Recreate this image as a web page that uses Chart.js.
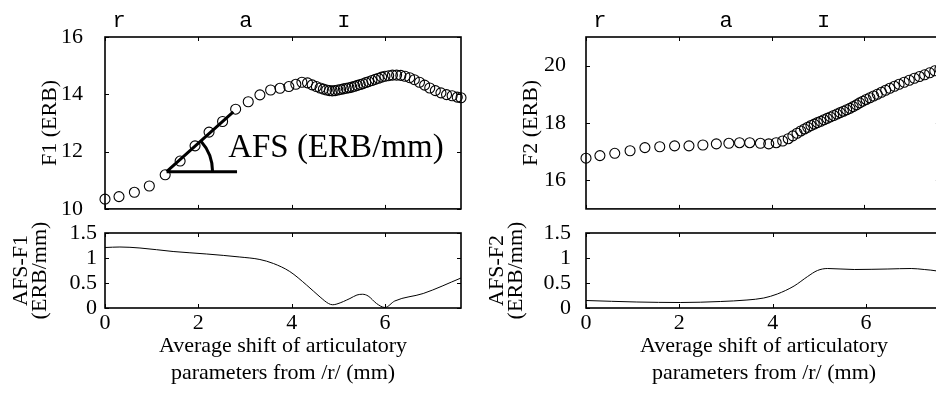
<!DOCTYPE html>
<html>
<head>
<meta charset="utf-8">
<script src="https://cdn.jsdelivr.net/npm/chart.js@4.4.1/dist/chart.umd.min.js"></script>
<style>
  html, body { margin: 0; padding: 0; background: #fff; }
  #wrap { position: relative; width: 936px; height: 394px; overflow: hidden; background: #fff; }
  canvas { position: absolute; }
</style>
</head>
<body>
<div id="wrap">
  <canvas id="cA" width="470" height="215" style="left:0px;top:0px"></canvas>
  <canvas id="cB" width="480" height="215" style="left:466px;top:0px"></canvas>
  <canvas id="cC" width="470" height="179" style="left:0px;top:215px"></canvas>
  <canvas id="cD" width="480" height="179" style="left:466px;top:215px"></canvas>
</div>
<script>
// ---------------- data ----------------
const f1X = [0, 0.30, 0.63, 0.95, 1.29, 1.61, 1.93, 2.23, 2.52, 2.80, 3.07, 3.32, 3.55, 3.75, 3.94, 4.09,
  4.22, 4.34, 4.44, 4.53, 4.61, 4.68, 4.75, 4.81, 4.87, 4.93, 4.99, 5.05, 5.11, 5.17, 5.23, 5.29, 5.35,
  5.41, 5.47, 5.53, 5.59, 5.65, 5.72, 5.79, 5.86, 5.93, 6.00, 6.08, 6.16, 6.25, 6.34, 6.43, 6.53, 6.63,
  6.74, 6.85, 6.96, 7.08, 7.20, 7.32, 7.44, 7.55, 7.63];
const f1Y = [10.34, 10.43, 10.58, 10.80, 11.19, 11.67, 12.20, 12.68, 13.05, 13.48, 13.74, 13.98, 14.15, 14.21, 14.27, 14.35,
  14.42, 14.40, 14.33, 14.27, 14.22, 14.18, 14.15, 14.13, 14.12, 14.13, 14.15, 14.17, 14.19, 14.21, 14.23, 14.25, 14.28,
  14.31, 14.34, 14.37, 14.41, 14.44, 14.48, 14.52, 14.56, 14.60, 14.63, 14.65, 14.67, 14.67, 14.66, 14.63, 14.58, 14.51,
  14.42, 14.32, 14.22, 14.13, 14.05, 13.99, 13.95, 13.90, 13.88];

const f2X = [0, 0.30, 0.62, 0.95, 1.27, 1.59, 1.91, 2.22, 2.52, 2.81, 3.08, 3.31, 3.53, 3.76, 3.94, 4.10,
  4.24, 4.36, 4.46, 4.55, 4.63, 4.71, 4.78, 4.85, 4.92, 4.99, 5.06, 5.13, 5.20, 5.27, 5.34, 5.41, 5.48,
  5.55, 5.62, 5.69, 5.76, 5.83, 5.90, 5.97, 6.04, 6.12, 6.20, 6.28, 6.37, 6.46, 6.55, 6.65, 6.75, 6.86,
  6.97, 7.08, 7.19, 7.30, 7.41, 7.52, 7.63];
const f2Y = [16.77, 16.86, 16.94, 17.03, 17.14, 17.17, 17.20, 17.20, 17.23, 17.27, 17.29, 17.31, 17.31, 17.29, 17.27, 17.31,
  17.37, 17.45, 17.55, 17.64, 17.72, 17.79, 17.85, 17.91, 17.96, 18.01, 18.06, 18.11, 18.16, 18.21, 18.26, 18.31, 18.36,
  18.41, 18.46, 18.51, 18.57, 18.63, 18.70, 18.76, 18.82, 18.88, 18.94, 19.00, 19.07, 19.14, 19.21, 19.28, 19.35, 19.42,
  19.49, 19.56, 19.62, 19.68, 19.75, 19.82, 19.88];

const afs1X = [0, 0.32, 0.75, 1.46, 2.18, 2.89, 3.32, 3.61, 3.96, 4.32, 4.61, 4.79, 4.88, 4.97, 5.25, 5.40, 5.52, 5.64, 5.82, 6.00, 6.21, 6.82, 7.63];
const afs1Y = [1.21, 1.22, 1.20, 1.13, 1.08, 1.02, 0.97, 0.89, 0.73, 0.46, 0.22, 0.09, 0.065, 0.08, 0.19, 0.26, 0.275, 0.24, 0.09, 0.01, 0.14, 0.29, 0.60];

const afs2X = [0, 1.09, 2.02, 2.88, 3.45, 3.81, 4.10, 4.46, 4.75, 4.96, 5.18, 5.75, 6.47, 6.97, 7.25, 7.53, 7.63];
const afs2Y = [0.15, 0.12, 0.11, 0.13, 0.16, 0.20, 0.28, 0.44, 0.63, 0.75, 0.79, 0.77, 0.78, 0.79, 0.77, 0.74, 0.72];

const xTicks = [0, 2, 4, 6];
const f1Ticks = [10, 12, 14, 16];
const f2Ticks = [16, 18, 20];
const afsTicks = [0, 0.5, 1, 1.5];
const topLabels = ['r', 'a', '\u026A'];
const topLabelPos = [0.30, 3.02, 5.12];
const xMin = 0, xMax = 7.63;

// annotation anchor (data units): slope line start, slope line end, horizontal end, text anchor
const annoSlope = [[1.32, 11.30], [2.75, 13.39]];
const annoBaseEnd = [2.83, 11.30];
const annoText = [2.64, 11.80];

// ---------------- helpers ----------------
Chart.defaults.color = '#000';
const SERIF = '"Liberation Serif", "Times New Roman", serif';
const MONO = '"Liberation Mono", "DejaVu Sans Mono", monospace';

function pts(xs, ys) { return xs.map((x, i) => ({ x, y: ys[i] })); }
function setTicks(arr) { return (s) => { s.ticks = arr.map(v => ({ value: v })); }; }
function fixH(h) { return (s) => { s.height = h; s.paddingLeft = 0; s.paddingRight = 0; }; }
function fixW(w) { return (s) => { s.width = w; s.paddingTop = 0; s.paddingBottom = 0; }; }
const GRID = { display: false, drawTicks: false };

const framePlugin = {
  id: 'frame',
  afterDatasetsDraw(chart) {
    const { ctx, chartArea: a, scales } = chart;
    ctx.save();
    ctx.strokeStyle = '#000';
    ctx.lineWidth = 1;
    const tl = 4;
    ctx.beginPath();
    scales.x.ticks.forEach(t => {
      const px = Math.round(scales.x.getPixelForValue(t.value)) + 0.5;
      ctx.moveTo(px, a.bottom); ctx.lineTo(px, a.bottom - tl);
      ctx.moveTo(px, a.top); ctx.lineTo(px, a.top + tl);
    });
    scales.y.ticks.forEach(t => {
      const py = Math.round(scales.y.getPixelForValue(t.value)) + 0.5;
      ctx.moveTo(a.left, py); ctx.lineTo(a.left + tl, py);
      ctx.moveTo(a.right, py); ctx.lineTo(a.right - tl, py);
    });
    ctx.stroke();
    ctx.lineWidth = 1.6;
    ctx.strokeRect(a.left, a.top, a.right - a.left, a.bottom - a.top);
    ctx.restore();
  }
};

const annoPlugin = {
  id: 'anno',
  afterDatasetsDraw(chart) {
    const { ctx } = chart;
    const sx = chart.scales.x, sy = chart.scales.y;
    const x0 = sx.getPixelForValue(annoSlope[0][0]), y0 = sy.getPixelForValue(annoSlope[0][1]);
    const x1 = sx.getPixelForValue(annoSlope[1][0]), y1 = sy.getPixelForValue(annoSlope[1][1]);
    const x2 = sx.getPixelForValue(annoBaseEnd[0]);
    ctx.save();
    ctx.strokeStyle = '#000';
    ctx.lineWidth = 3;
    ctx.beginPath();
    ctx.moveTo(x0, y0); ctx.lineTo(x1, y1);
    ctx.moveTo(x0, y0); ctx.lineTo(x2, y0);
    ctx.stroke();
    const ang = Math.atan2(y1 - y0, x1 - x0);
    ctx.beginPath();
    ctx.arc(x0, y0, 46, ang, 0);
    ctx.stroke();
    ctx.fillStyle = '#000';
    ctx.font = '33px ' + SERIF;
    ctx.textAlign = 'left';
    ctx.textBaseline = 'alphabetic';
    ctx.fillText('AFS (ERB/mm)', sx.getPixelForValue(annoText[0]), sy.getPixelForValue(annoText[1]));
    ctx.restore();
  }
};

function topChart(id, data, yMin, yMax, yTicks, yTitle, cfg) {
  return new Chart(document.getElementById(id), {
    type: 'scatter',
    data: { datasets: [{
      data: pts(data[0], data[1]),
      showLine: false,
      pointStyle: 'circle',
      pointRadius: 5,
      pointHoverRadius: 5,
      pointBorderWidth: 1.1,
      pointBorderColor: '#000',
      pointBackgroundColor: 'rgba(0,0,0,0)',
      clip: false
    }]},
    options: {
      responsive: false, maintainAspectRatio: false, animation: false, devicePixelRatio: 1,
      layout: { padding: { left: 0, right: cfg.padRight, top: 0, bottom: 0 } },
      plugins: { legend: { display: false }, tooltip: { enabled: false } },
      scales: {
        x: {
          type: 'linear', position: 'bottom', min: xMin, max: xMax,
          afterBuildTicks: setTicks(xTicks),
          afterFit: fixH(6),
          ticks: { display: false },
          grid: GRID, border: { display: false }
        },
        x2: {
          type: 'linear', position: 'top', min: xMin, max: xMax,
          afterBuildTicks: setTicks(topLabelPos),
          afterFit: fixH(37),
          ticks: { autoSkip: false, maxRotation: 0, padding: 3,
                   font: { family: MONO, size: 22 },
                   callback: (v, i) => topLabels[i] },
          grid: GRID, border: { display: false }
        },
        y: {
          type: 'linear', position: 'left', min: yMin, max: yMax,
          afterBuildTicks: setTicks(yTicks),
          afterFit: fixW(cfg.yWidth),
          ticks: { autoSkip: false, padding: cfg.tickPad, font: { family: SERIF, size: 22 },
                   callback: (v) => String(v) },
          title: { display: true, text: yTitle, font: { family: SERIF, size: 22 },
                   padding: { top: cfg.titlePad, bottom: 0 } },
          grid: GRID, border: { display: false }
        }
      }
    },
    plugins: cfg.extra ? [framePlugin, cfg.extra] : [framePlugin]
  });
}

function bottomChart(id, data, yTitle, cfg) {
  return new Chart(document.getElementById(id), {
    type: 'scatter',
    data: { datasets: [{
      data: pts(data[0], data[1]),
      showLine: true,
      borderColor: '#000',
      borderWidth: 1,
      pointRadius: 0,
      pointHoverRadius: 0,
      cubicInterpolationMode: 'monotone'
    }]},
    options: {
      responsive: false, maintainAspectRatio: false, animation: false, devicePixelRatio: 1,
      layout: { padding: { left: 0, right: cfg.padRight, top: 18, bottom: 0 } },
      plugins: { legend: { display: false }, tooltip: { enabled: false } },
      scales: {
        x: {
          type: 'linear', position: 'bottom', min: xMin, max: xMax,
          afterBuildTicks: setTicks(xTicks),
          afterFit: fixH(86),
          ticks: { padding: 2, maxRotation: 0, autoSkip: false, font: { family: SERIF, size: 22 },
                   callback: (v) => String(v) },
          title: { display: true,
                   text: ['Average shift of articulatory', 'parameters from /r/ (mm)'],
                   font: { family: SERIF, size: 22, lineHeight: 1.2 },
                   padding: { top: 0, bottom: 8 } },
          grid: GRID, border: { display: false }
        },
        y: {
          type: 'linear', position: 'left', min: 0, max: 1.5,
          afterBuildTicks: setTicks(afsTicks),
          afterFit: fixW(cfg.yWidth),
          ticks: { autoSkip: false, padding: cfg.tickPad, font: { family: SERIF, size: 22 },
                   callback: (v) => String(v) },
          title: { display: true, text: yTitle, font: { family: SERIF, size: 22, lineHeight: 0.84 },
                   padding: { top: cfg.titlePad, bottom: 0 } },
          grid: GRID, border: { display: false }
        }
      }
    },
    plugins: [framePlugin]
  });
}

topChart('cA', [f1X, f1Y], 10, 16, f1Ticks, 'F1 (ERB)',
  { padRight: 9, yWidth: 105, tickPad: 22, titlePad: 37, extra: annoPlugin });
topChart('cB', [f2X, f2Y], 15, 21, f2Ticks, 'F2 (ERB)',
  { padRight: 4, yWidth: 120, tickPad: 20, titlePad: 52 });
bottomChart('cC', [afs1X, afs1Y], ['AFS-F1', '(ERB/mm)'],
  { padRight: 9, yWidth: 105, tickPad: 8, titlePad: 12 });
bottomChart('cD', [afs2X, afs2Y], ['AFS-F2', '(ERB/mm)'],
  { padRight: 4, yWidth: 120, tickPad: 15, titlePad: 22 });
</script>
</body>
</html>
